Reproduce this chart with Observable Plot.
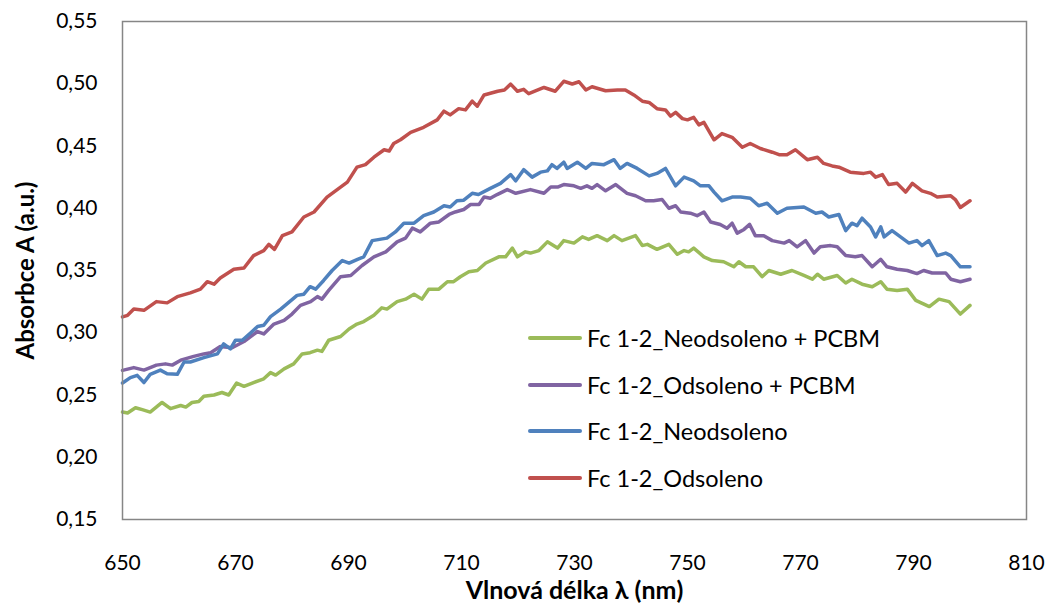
<!DOCTYPE html>
<html><head><meta charset="utf-8">
<script src="https://cdn.jsdelivr.net/npm/d3@7"></script>
<script src="https://cdn.jsdelivr.net/npm/@observablehq/plot@0.6"></script>
<style>
body{margin:0;background:#fff;}
#wrap{position:relative;width:1050px;height:604px;font-family:Lato,sans-serif;}
#wrap svg g[aria-label="x-axis label"] text{font-weight:700;font-size:25px;}
#wrap svg g[aria-label="y-axis label"] text{font-weight:700;font-size:24px;}
#legend{position:absolute;left:528px;top:315px;}
.row{display:flex;align-items:center;height:46.5px;font-size:23.5px;color:#000;white-space:nowrap;}
.sw{width:54px;height:4px;border-radius:2px;margin-right:5px;}
</style></head><body><div id="wrap"></div>
<script>
const seriesNames = ["Fc 1-2_Neodsoleno + PCBM","Fc 1-2_Odsoleno + PCBM","Fc 1-2_Neodsoleno","Fc 1-2_Odsoleno"];
const seriesColors = ["#9BBB59","#8064A2","#4F81BD","#C0504D"];
const xTicks = [650,670,690,710,730,750,770,790,810];
const yTicks = [0.15,0.20,0.25,0.30,0.35,0.40,0.45,0.50,0.55];

const greenX = [650,650.9,652.3,653.5,654.9,657,658.5,660.3,661.2,662.3,663.5,664.4,666.2,667.6,668.8,670.2,671.5,673.2,675,676.2,677.1,678.6,680.3,681.8,683.2,684.5,685.3,686.5,688.6,690.1,691.5,692.7,694.5,695.9,696.8,698.6,700.1,701.6,703,704.2,706,707.5,708.6,709.8,711.3,712.8,714.3,716.6,717.8,719,719.9,721.3,722.2,723.7,725.2,727,728.1,
 729.9,731.4,732.5,734,735.8,737,738.4,740.8,742,742.9,744.6,746.7,748.2,749.4,750.2,751.1,752.9,754.4,756.4,758.2,759.1,760.3,761.7,763.2,764.4,766.5,768.5,770.6,772.1,773,774.1,776.5,778,779.1,780.9,782.7,784.2,785.3,787.1,788.9,790.4,792.8,794.5,796.3,798.3,800];
const greenY = [.2363,.2355,.2398,.2382,.2363,.244,.239,.2416,.2403,.244,.2448,.249,.250,.252,.250,.2596,.257,.260,.263,.268,.266,.271,.275,.283,.284,.286,.285,.294,.297,.303,.307,.309,.314,.320,.319,.325,.327,.331,.327,.335,.335,.341,.341,.345,.349,.350,.356,.361,.361,.368,.361,.365,.364,.366,.373,.368,.374,
 .372,.377,.375,.378,.374,.378,.374,.378,.370,.371,.367,.371,.363,.366,.365,.368,.361,.358,.357,.353,.357,.353,.353,.345,.350,.347,.350,.346,.343,.347,.343,.346,.340,.343,.339,.337,.341,.335,.334,.335,.326,.321,.327,.325,.315,.322];

const purpleX = [650,652,653.8,656,657.6,658.8,660.3,662.6,664.4,665.6,667.3,669.4,671.5,673.9,675,676.8,678.6,680,681.5,683.3,684.5,685.3,686.5,688.6,690.4,692.4,694.5,696.6,698.6,700.1,701.3,702.7,704.5,706,707.8,708.9,710.4,711.6,713.1,714,715.1,716.3,718.1,719.6,722.2,724.6,725.8,727,728.1,
 729.9,731.1,732.2,733.1,734,735.5,737.3,739.3,740.8,742.6,744,745.5,746.7,747.9,748.8,750.5,751.7,752.9,754.1,755.8,757,757.9,758.8,760,761,762,763.5,765,767.1,768,769.4,770.9,772.4,773.5,775.3,776.5,778,779.7,780.9,782.7,784.2,785.3,787.1,788.9,790.6,791.8,793.3,795.7,796.6,798.3,800];
const purpleY = [.2698,.272,.270,.274,.275,.274,.278,.281,.283,.284,.289,.288,.293,.301,.299,.307,.310,.315,.322,.325,.329,.327,.334,.345,.346,.354,.361,.365,.373,.376,.384,.381,.388,.389,.395,.397,.399,.403,.403,.409,.408,.411,.415,.412,.415,.412,.417,.417,.419,
 .418,.416,.418,.416,.419,.414,.419,.412,.410,.406,.406,.407,.400,.402,.397,.396,.394,.397,.389,.387,.384,.388,.380,.383,.387,.378,.378,.374,.372,.374,.369,.374,.364,.369,.370,.369,.362,.361,.362,.353,.359,.353,.351,.350,.3475,.350,.348,.348,.343,.341,.343];

const blueX = [650,651.4,652.6,653.8,654.9,656.7,657.9,659.7,660.9,662,664.4,666.8,667.9,669.1,670,671.2,672.7,673.9,675,676.2,678,680.9,682.1,683.2,684.2,685.6,687.1,688.9,690.1,691.6,692.7,694.2,696.8,698.3,699.8,701.6,703.3,705.1,706.9,708,709.2,710.4,711.9,713,715.1,716.9,718.7,719.6,721,722.5,724,725.2,726,726.9,728.1,
 728.7,730.5,732,733.1,735.2,737,738.1,739.3,741.1,743.2,744.6,746.1,747.9,749.4,751.1,752.3,753.8,754.7,756.1,757.9,759.4,761.1,762.6,764.1,765.9,767.6,770.6,772.7,773.8,775,776.8,778,779.1,780,780.9,782.4,783.3,784.2,784.8,786.2,787.7,789.2,790.6,791.5,792.7,794.2,795.7,796.6,798.3,800];
const blueY = [.2596,.264,.2658,.260,.2666,.270,.267,.2666,.2765,.2765,.280,.283,.291,.287,.294,.294,.300,.305,.306,.313,.319,.330,.331,.337,.335,.342,.350,.358,.356,.359,.361,.374,.376,.381,.388,.388,.394,.397,.402,.401,.406,.4065,.412,.411,.416,.420,.427,.422,.431,.425,.429,.430,.435,.432,.437,
 .432,.437,.432,.436,.435,.439,.432,.436,.432,.426,.428,.432,.418,.425,.422,.418,.418,.413,.406,.409,.409,.408,.402,.404,.396,.400,.401,.396,.397,.393,.395,.382,.388,.386,.392,.385,.377,.385,.377,.382,.377,.372,.374,.370,.374,.362,.364,.362,.353,.353];

const redX = [650,650.9,652,653.8,656,657.9,659.7,662,663.8,665,666.2,667.3,669.7,671.5,673.2,675,675.9,676.9,678.3,680,682.1,683.9,686.2,688,689.8,691.5,693,694.5,696.3,697.2,698,699.2,701,703.3,705.7,706.9,708,709.5,710.7,711.9,712.8,714,716.4,717.6,718.7,719.9,721,721.9,724.6,726.6,728.1,729.6,730.8,732,733.1,735.5,737.6,739,740.5,742,743.2,744.6,746.1,747,747.9,749.1,750,751.1,752,752.9,754.7,756.1,757.9,759.7,761.1,762.9,765,766.2,767.6,769.1,771.2,773,774.1,775.6,776.8,778.8,781.2,782.4,783.3,784.5,785.6,787.1,788.6,789.8,791.5,793,794.2,796.6,797.4,798.3,800];
const redY = [.3127,.314,.319,.318,.325,.324,.329,.332,.335,.341,.339,.344,.351,.352,.362,.366,.371,.367,.378,.381,.393,.397,.409,.415,.421,.433,.435,.441,.447,.446,.452,.455,.461,.465,.471,.478,.475,.480,.479,.486,.482,.491,.494,.495,.4997,.494,.4955,.492,.497,.494,.502,.4998,.5016,.495,.4976,.4944,.495,.495,.491,.486,.485,.480,.479,.474,.477,.472,.471,.473,.467,.469,.455,.460,.457,.449,.452,.448,.445,.443,.443,.447,.439,.441,.436,.434,.433,.429,.428,.429,.425,.427,.419,.420,.413,.420,.414,.412,.409,.410,.407,.4006,.406];

const seriesX = [greenX, purpleX, blueX, redX];
const seriesY = [greenY, purpleY, blueY, redY];
const data = seriesNames.flatMap((name, k) => seriesX[k].map((x, i) => ({x, y: seriesY[k][i], s: name})));

const fmtY = d => d.toFixed(2).replace(".", ",");

const chart = Plot.plot({
  width: 1050, height: 604,
  marginLeft: 122, marginRight: 24, marginTop: 21, marginBottom: 85,
  style: {fontFamily: "Lato, sans-serif", fontSize: "21px", color: "#000", background: "#fff"},
  x: {domain: [650, 810]},
  y: {domain: [0.15, 0.55]},
  color: {domain: seriesNames, range: seriesColors},
  marks: [
    Plot.axisX({ticks: xTicks, tickFormat: d => String(d), tickSize: 0, tickPadding: 36, label: "Vlnová délka λ (nm)", labelAnchor: "center", labelArrow: "none", labelOffset: 79}),
    Plot.axisY({ticks: yTicks, tickFormat: fmtY, tickSize: 0, tickPadding: 25, label: "Absorbce A (a.u.)", labelAnchor: "center", labelArrow: "none", labelOffset: 106}),
    Plot.line(data, {x: "x", y: "y", z: "s", stroke: "s", strokeWidth: 3.5, strokeLinejoin: "round", strokeLinecap: "round"}),
    Plot.frame({stroke: "#868686", strokeWidth: 1.5})
  ]
});
const wrap = document.getElementById("wrap");
wrap.appendChild(chart);

const legend = document.createElement("div");
legend.id = "legend";
seriesNames.forEach((name, k) => {
  const row = document.createElement("div");
  row.className = "row";
  const sw = document.createElement("span");
  sw.className = "sw";
  sw.style.background = seriesColors[k];
  const t = document.createElement("span");
  t.textContent = name;
  row.appendChild(sw); row.appendChild(t);
  legend.appendChild(row);
});
wrap.appendChild(legend);
</script>
</body></html>
